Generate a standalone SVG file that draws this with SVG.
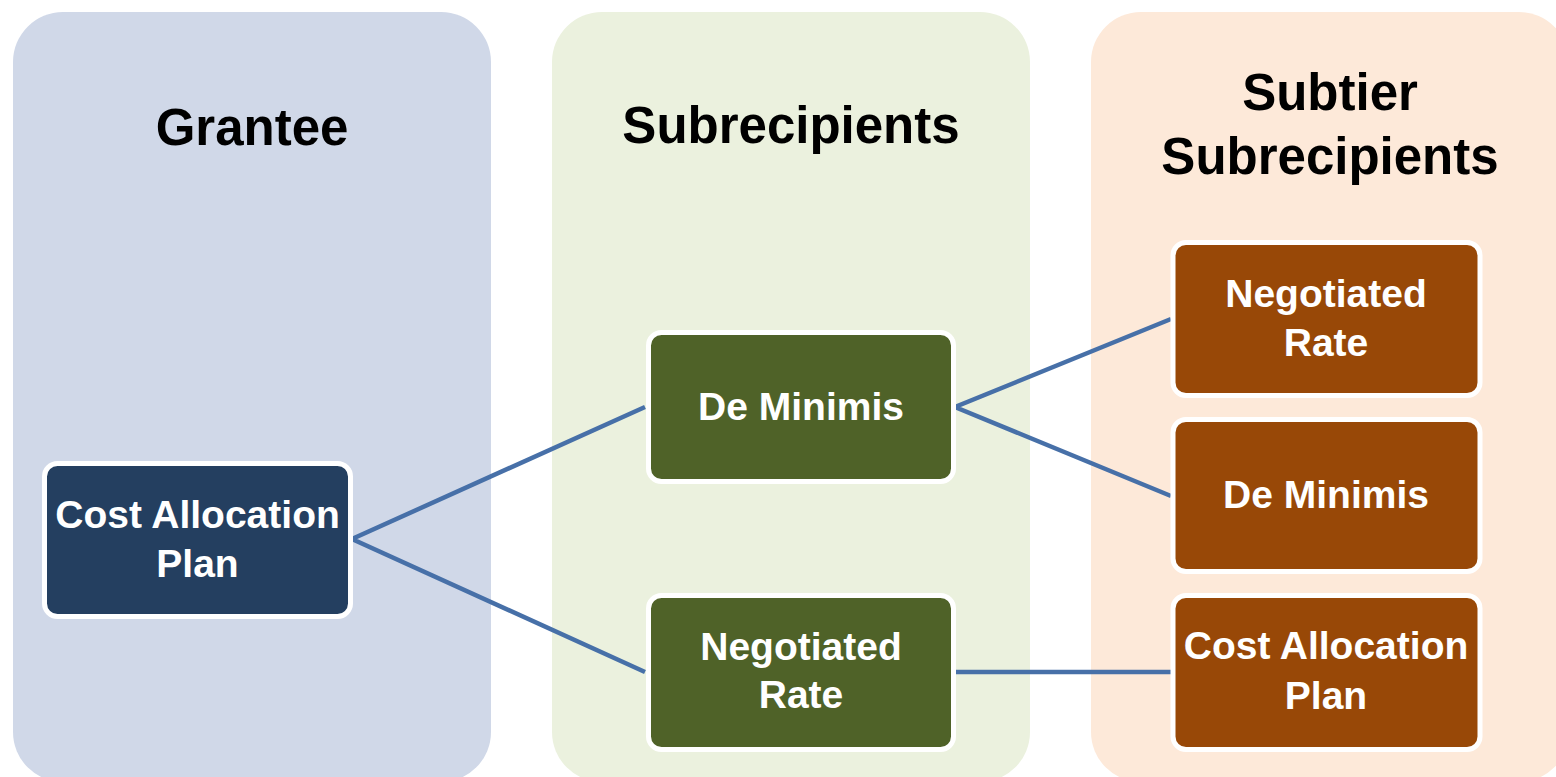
<svg xmlns="http://www.w3.org/2000/svg" width="1556" height="777" viewBox="0 0 1556 777">
<style>
.hdr{font-family:"Liberation Sans",Arial,sans-serif;font-weight:bold;font-size:51px;fill:#000;text-anchor:middle}
.lbl{font-family:"Liberation Sans",Arial,sans-serif;font-weight:bold;font-size:39px;fill:#fff;text-anchor:middle}
.box{stroke:#fff;stroke-width:5}
.navy{fill:#243F60}
.green{fill:#4F6228}
.brown{fill:#984807}
.conn{stroke:#4770A8;stroke-width:4.5;fill:none;stroke-linecap:butt}
</style>
<rect width="1556" height="777" fill="#ffffff"/>
<g id="col-grantee">
<rect x="13" y="12" width="478" height="770" rx="50" fill="#D0D8E8"/>
<text class="hdr" x="252" y="145">Grantee</text>
</g>
<g id="col-subrecipients">
<rect x="552" y="12" width="478" height="770" rx="50" fill="#EBF1DE"/>
<text class="hdr" x="791" y="143">Subrecipients</text>
</g>
<g id="col-subtier">
<rect x="1091" y="12" width="478" height="770" rx="50" fill="#FDE9D9"/>
<text class="hdr" x="1330" y="110">Subtier</text>
<text class="hdr" x="1330" y="174">Subrecipients</text>
</g>
<g id="connectors">
<polyline class="conn" points="645,407 352,539 645,672"/>
<polyline class="conn" points="1171,319 955,407 1171,496"/>
<line class="conn" x1="955" y1="672" x2="1171" y2="672"/>
</g>
<g id="grantee-cap">
<rect class="box navy" x="44.5" y="463.5" width="306" height="153" rx="13"/>
<text class="lbl" x="197.5" y="528">Cost Allocation</text>
<text class="lbl" x="197.5" y="577">Plan</text>
</g>
<g id="sub-deminimis">
<rect class="box green" x="648.5" y="332.5" width="305" height="149" rx="13"/>
<text class="lbl" x="801" y="420">De Minimis</text>
</g>
<g id="sub-negotiated">
<rect class="box green" x="648.5" y="595.5" width="305" height="154" rx="13"/>
<text class="lbl" x="801" y="660">Negotiated</text>
<text class="lbl" x="801" y="708">Rate</text>
</g>
<g id="subtier-negotiated">
<rect class="box brown" x="1173" y="242.5" width="307" height="153" rx="13"/>
<text class="lbl" x="1326" y="307">Negotiated</text>
<text class="lbl" x="1326" y="356">Rate</text>
</g>
<g id="subtier-deminimis">
<rect class="box brown" x="1173" y="419.5" width="307" height="152" rx="13"/>
<text class="lbl" x="1326" y="508">De Minimis</text>
</g>
<g id="subtier-cap">
<rect class="box brown" x="1173" y="595.5" width="307" height="154" rx="13"/>
<text class="lbl" x="1326" y="659">Cost Allocation</text>
<text class="lbl" x="1326" y="709">Plan</text>
</g>
</svg>
